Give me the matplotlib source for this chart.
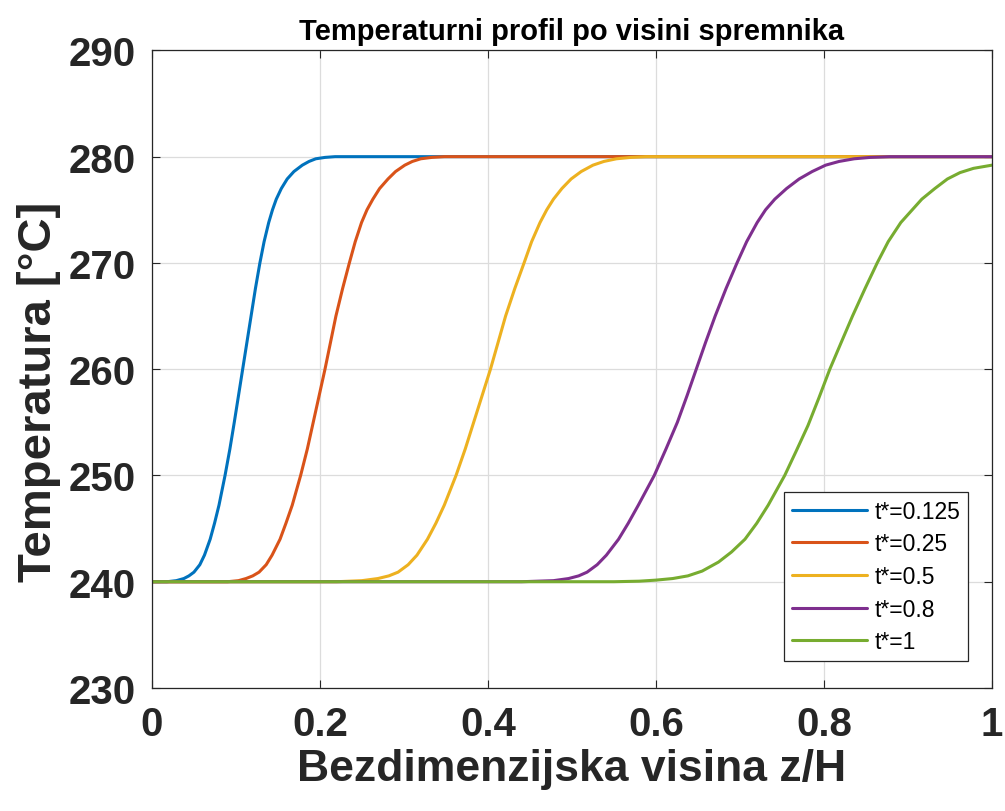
import matplotlib
matplotlib.use("Agg")
import matplotlib.pyplot as plt

plt.rcParams['font.family'] = ['Liberation Sans', 'DejaVu Sans']

# values
labels = ['t*=0.125', 't*=0.25', 't*=0.5', 't*=0.8', 't*=1']
colors = ['#0072BD', '#D95319', '#EDB120', '#7E2F8E', '#77AC30']

# temperature levels at which the first four profiles were read
T_levels = [240, 240, 240.1, 240.3, 240.55, 240.9, 241.6, 242.5, 244.0, 245.5,
            247.2, 250, 252.5, 255, 257.5, 260, 262.5, 265, 267.6, 270,
            272.0, 273.8, 275.0, 276.0, 277.0, 277.9, 278.6, 279.2, 279.55,
            279.8, 279.93, 280, 280]

z_0125 = [0, 0.018, 0.029, 0.038, 0.044, 0.050, 0.057, 0.0625, 0.0693, 0.0745,
          0.0798, 0.087, 0.0928, 0.098, 0.103, 0.108, 0.113, 0.118, 0.1232,
          0.1285, 0.1335, 0.139, 0.1435, 0.148, 0.154, 0.161, 0.169, 0.179,
          0.187, 0.195, 0.206, 0.218, 1.0]
z_025 = [0, 0.09, 0.103, 0.112, 0.12, 0.1275, 0.136, 0.143, 0.1525, 0.1595,
         0.167, 0.177, 0.185, 0.192, 0.199, 0.206, 0.2125, 0.219, 0.227,
         0.235, 0.242, 0.2495, 0.256, 0.263, 0.271, 0.281, 0.290, 0.301,
         0.310, 0.320, 0.333, 0.348, 1.0]
z_05 = [0, 0.22, 0.25, 0.269, 0.282, 0.293, 0.305, 0.3155, 0.328, 0.338,
        0.348, 0.362, 0.373, 0.383, 0.393, 0.403, 0.412, 0.421, 0.432,
        0.443, 0.452, 0.462, 0.470, 0.478, 0.488, 0.499, 0.511, 0.525,
        0.538, 0.553, 0.570, 0.588, 1.0]
z_08 = [0, 0.44, 0.478, 0.496, 0.508, 0.518, 0.530, 0.541, 0.5555, 0.567,
        0.579, 0.598, 0.612, 0.6255, 0.637, 0.648, 0.659, 0.6705, 0.6835,
        0.6965, 0.708, 0.7205, 0.7305, 0.7415, 0.7555, 0.7705, 0.786, 0.802,
        0.818, 0.836, 0.855, 0.878, 1.0]

# last profile does not reach 280 inside the tank
z_1 = [0, 0.55, 0.58, 0.6, 0.62, 0.638, 0.655, 0.6745, 0.69, 0.706, 0.72,
       0.7336, 0.7533, 0.767, 0.781, 0.794, 0.807, 0.821, 0.834, 0.849,
       0.8634, 0.8765, 0.8915, 0.9165, 0.932, 0.947, 0.962, 0.978, 1.0]
T_1 = [240, 240, 240.05, 240.15, 240.3, 240.55, 241.0, 241.85, 242.8, 244.0,
       245.5, 247.2, 250, 252.3, 254.7, 257.3, 260, 262.6, 265, 267.6, 270,
       272.0, 273.8, 276.0, 277.0, 277.9, 278.5, 278.9, 279.2]

x_ticks = [0, 0.2, 0.4, 0.6, 0.8, 1]
x_ticklabels = ['0', '0.2', '0.4', '0.6', '0.8', '1']
y_ticks = [230, 240, 250, 260, 270, 280, 290]

series = [(z_0125, T_levels), (z_025, T_levels), (z_05, T_levels),
          (z_08, T_levels), (z_1, T_1)]

fig = plt.figure(figsize=(10.05, 8.12), dpi=100)
ax = fig.add_axes([0.1512, 0.1515, 0.8358, 0.7852])

for (z, T), lab, c in zip(series, labels, colors):
    ax.plot(z, T, color=c, linewidth=2.2, label=lab,
            solid_joinstyle='round', solid_capstyle='round')

ax.set_xlim(0, 1)
ax.set_ylim(230, 290)
ax.set_xticks(x_ticks)
ax.set_xticklabels(x_ticklabels)
ax.set_yticks(y_ticks)

ax.grid(True, color='#dcdcdc', linewidth=0.9)
ax.set_axisbelow(True)
ax.tick_params(direction='in', top=True, right=True, length=6, width=0.8,
               labelsize=29, pad=12, colors='#262626', labelcolor='#262626')
for lbl in ax.get_xticklabels() + ax.get_yticklabels():
    lbl.set_fontweight('bold')
for sp in ax.spines.values():
    sp.set_color('#262626')
    sp.set_linewidth(0.9)

ax.set_title('Temperaturni profil po visini spremnika', fontsize=21,
             fontweight='bold', color='black', pad=8)
ax.set_xlabel('Bezdimenzijska visina z/H', fontsize=32, fontweight='bold',
              color='#262626')
ax.set_ylabel('Temperatura [°C]', fontsize=34, fontweight='bold',
              color='#262626')
ax.xaxis.set_label_coords(0.5, -0.094)
ax.yaxis.set_label_coords(-0.108, 0.466)

leg = ax.legend(loc='lower left', bbox_to_anchor=(0.752, 0.042),
                fontsize=16.5, handlelength=3.3, handletextpad=0.3,
                labelspacing=0.42, borderpad=0.35, borderaxespad=0,
                fancybox=False, framealpha=1)
leg.get_frame().set_edgecolor('#262626')
leg.get_frame().set_linewidth(0.9)

fig.savefig('out.png', dpi=100, facecolor='white')
